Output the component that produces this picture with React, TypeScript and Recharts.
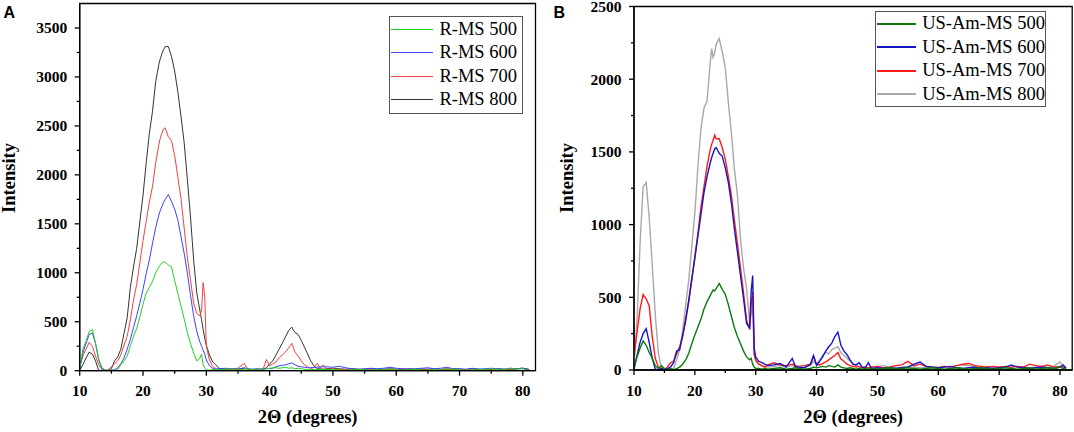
import { LineChart, Line, XAxis, YAxis, ReferenceArea, Legend, Label } from 'recharts';

const twoTheta = [
  10, 10.5, 11, 11.5, 12, 12.5, 13, 13.5, 14, 14.5, 15, 15.5, 16, 16.5, 17, 17.5, 18, 18.5, 19, 19.5, 20, 20.5, 21, 21.5, 22, 22.5,
  22.75, 23, 23.25, 23.5,
  24, 24.5, 25, 25.5, 26, 26.5, 27, 27.5, 28, 28.5, 29,
  29.25, 29.5, 29.75, 30,
  30.5, 31, 31.5, 32,
  33, 34, 35, 36, 36.5, 37, 38, 39, 39.5,
  40, 40.5, 41, 41.5, 42, 42.5, 43, 43.5, 44, 44.5, 45, 45.5, 46, 46.5, 47, 47.5, 48, 48.5,
  49,
  50, 51, 52, 53, 54, 55, 56, 57, 58, 59,
  60, 61, 62, 63, 64, 65, 66, 67, 68, 69,
  70, 71, 72, 73, 74, 75, 76, 77, 78, 79, 80,
  80.5, 81,
];

// Panel A - R-MS
const rms500 = [
  20, 220, 300, 400, 420, 280, 120, 30, 10, 0, 10, 0, 10, 60, 100, 150, 250, 350, 430, 550, 680, 790, 850, 910, 1000, 1060,
  1080, 1100, 1110, 1110,
  1080, 1060, 920, 790, 660, 530, 390, 280, 180, 100, 130,
  170, 60, 30, 10,
  5, 10, 15, 10,
  15, 20, 10, 15, 25, 10, 15, 10, 20,
  25, 30, 30, 25, 30, 35, 25, 30, 20, 25, 20, 15, 10, 15, 10, 15, 10, 15,
  10,
  15, 10, 5, 10, 15, 10, 5, 15, 10, 20,
  10, 5, 10, 15, 10, 5, 15, 10, 20, 15,
  10, 5, 10, 15, 10, 20, 15, 10, 25, 15, 20,
  10, 5,
];
const rms600 = [
  20, 180, 280, 370, 385, 280, 110, 20, 5, 0, 5, 10, 30, 70, 130, 220, 320, 440, 560, 690, 830, 990, 1130, 1300, 1460, 1590,
  1640, 1680, 1720, 1750,
  1800, 1730, 1650, 1540, 1370, 1200, 1000, 770, 560, 400, 290,
  250, 210, 170, 110,
  50, 25, 15, 20,
  25, 20, 15, 30, 20, 15, 20, 15, 25,
  20, 25, 40, 50, 55, 60, 70, 80, 60, 45, 40, 35, 30, 30, 35, 35, 40, 40,
  40,
  35, 45, 30, 20, 15, 20, 25, 20, 25, 35,
  25, 20, 15, 20, 25, 30, 20, 25, 35, 20,
  20, 15, 25, 15, 20, 25, 20, 15, 25, 20, 25,
  20, 15,
];
const rms700 = [
  40, 150, 220, 290, 250, 150, 60, 10, 0, 10, 40, 70, 100, 160, 260, 350, 520, 720, 880, 1100, 1330, 1520, 1720, 1880, 2120, 2310,
  2380, 2430, 2470, 2480,
  2390, 2350, 2200, 1980, 1760, 1460, 1160, 930, 690, 585, 560,
  620, 900, 760, 250,
  110, 45, 20, 15,
  20, 15, 25, 75, 20, 15, 10, 20, 115,
  50, 70, 90, 130, 160, 190, 230, 280, 190, 150, 100, 60, 40, 25, 30, 75, 25, 60,
  15,
  20, 15, 10, 20, 15, 10, 15, 20, 10, 15,
  10, 20, 15, 10, 20, 15, 10, 15, 20, 10,
  15, 10, 20, 15, 10, 15, 20, 10, 15, 20, 25,
  15, 10,
];
const rms800 = [
  0, 60, 130, 190, 170, 100, 0, 0, 0, 0, 20, 100, 140, 220, 380, 540, 850, 1060, 1250, 1520, 1790, 2120, 2420, 2650, 2950, 3130,
  3190, 3240, 3280, 3310,
  3310, 3210, 3060, 2850, 2600, 2330, 1960, 1570, 1130, 790, 610,
  520, 420, 330, 260,
  160, 90, 60, 25,
  15, 20, 15, 25, 15, 10, 10, 15, 30,
  70, 100, 160, 220, 280, 345, 410, 445, 390, 370, 310, 240, 170, 100, 50, 20, 20, 15,
  20,
  25, 20, 15, 20, 10, 15, 20, 10, 15, 20,
  15, 10, 20, 15, 10, 15, 20, 10, 15, 20,
  15, 10, 20, 15, 10, 15, 20, 15, 10, 20, 25,
  20, 10,
];

// Panel B - US-Am-MS
const usam500 = [
  10, 90, 150, 200, 170, 120, 80, 30, 10, 30, 10, 0, 10, 0, 10, 20, 40, 70, 115, 180, 240, 295, 350, 420, 470, 510,
  530, 550, 545, 560,
  595, 555, 520, 450, 370, 290, 230, 180, 130, 90, 70,
  80, 40, 20, 10,
  10, 5, 10, 5,
  10, 15, 5, 10, 15, 10, 5, 10, 20,
  15, 20, 25, 20, 30, 25, 20, 35, 20, 15, 10, 15, 10, 5, 10, 5, 10, 5,
  10,
  5, 10, 15, 5, 10, 15, 10, 5, 10, 15,
  10, 5, 10, 15, 10, 5, 10, 15, 10, 5,
  10, 15, 10, 5, 10, 15, 5, 10, 15, 10, 20,
  10, 5,
];
const usam600 = [
  10, 100, 190, 250, 285, 190, 80, 5, 0, 10, 0, 10, 20, 50, 130, 140, 240, 340, 480, 630, 770, 920, 1070, 1220, 1330, 1420,
  1460, 1490, 1520, 1530,
  1490, 1470, 1390, 1290, 1150, 970, 810, 650, 490, 320, 290,
  540, 650, 150, 90,
  60, 50, 40, 30,
  35, 45, 20, 80, 25, 20, 15, 40, 100,
  30, 60, 90, 130, 160, 185, 230, 260, 170, 130, 105, 70, 40, 35, 50, 20, 15, 50,
  10,
  15, 10, 15, 10, 15, 20, 40, 55, 25, 20,
  15, 20, 25, 15, 10, 15, 20, 10, 15, 10,
  15, 20, 35, 20, 15, 10, 15, 20, 15, 10, 20,
  35, 10,
];
const usam700 = [
  100, 260, 420, 520, 490, 440, 230, 80, 20, 10, 0, 20, 50, 60, 110, 160, 230, 360, 470, 620, 780, 940, 1120, 1260, 1400, 1510,
  1550, 1580, 1615, 1590,
  1590, 1530, 1450, 1330, 1200, 1030, 870, 700, 530, 340, 280,
  450, 540, 110, 70,
  40, 30, 20, 35,
  50, 35, 30, 40, 30, 25, 30, 40, 95,
  40, 35, 45, 55, 70, 85, 100, 120, 75, 60, 40, 30, 25, 20, 25, 15, 20, 15,
  20,
  25, 15, 20, 30, 35, 60, 30, 40, 25, 20,
  15, 25, 20, 30, 40, 45, 30, 25, 20, 25,
  20, 25, 20, 25, 20, 40, 30, 25, 35, 20, 25,
  20, 15,
];
const usam800 = [
  20, 350, 870, 1260, 1290, 1050, 720, 380, 120, 10, 0, 5, 5, 10, 70, 140, 270, 450, 620, 850, 1080, 1400, 1660, 1800, 1850, 2100,
  2210, 2150, 2180, 2240,
  2280, 2190, 2080, 1840, 1630, 1380, 1200, 900, 700, 560, 330,
  380, 450, 100, 60,
  40, 30, 25, 20,
  25, 30, 20, 30, 20, 15, 20, 30, 60,
  40, 70, 100, 125, 110, 140, 150, 160, 120, 100, 80, 60, 40, 30, 20, 15, 20, 15,
  20,
  25, 30, 20, 15, 20, 25, 20, 15, 20, 15,
  20, 25, 20, 30, 35, 30, 25, 20, 25, 20,
  20, 15, 20, 25, 20, 15, 20, 25, 20, 25, 55,
  30, 20,
];

const namesA = ['R-MS 500', 'R-MS 600', 'R-MS 700', 'R-MS 800'];
const namesB = ['US-Am-MS 500', 'US-Am-MS 600', 'US-Am-MS 700', 'US-Am-MS 800'];

const xTicks = [10, 15, 20, 25, 30, 35, 40, 45, 50, 55, 60, 65, 70, 75, 80];
const yTicksA = [0, 250, 500, 750, 1000, 1250, 1500, 1750, 2000, 2250, 2500, 2750, 3000, 3250, 3500];
const yTicksB = [0, 250, 500, 750, 1000, 1250, 1500, 1750, 2000, 2250, 2500];

const rowsA = twoTheta.map((x, i) => ({ x, s500: rms500[i], s600: rms600[i], s700: rms700[i], s800: rms800[i] }));
const rowsB = twoTheta.map((x, i) => ({ x, s500: usam500[i], s600: usam600[i], s700: usam700[i], s800: usam800[i] }));

const keys = ['s500', 's600', 's700', 's800'];
const colorsA = ['#22d022', '#4040ff', '#f04040', '#333333'];
const colorsB = ['#0b7a0b', '#1414c8', '#ff1a1a', '#a8a8a8'];

const SERIF = '"Liberation Serif", "Times New Roman", serif';

function XTick({ x, y, payload }: any) {
  const major = payload.value % 10 === 0;
  return (
    <g>
      <line x1={x} y1={y} x2={x} y2={y + (major ? 5 : 3)} stroke="#000" strokeWidth={1.3} />
      {major && (
        <text x={x} y={y + 25.5} textAnchor="middle" fontSize={15.5} fontWeight="bold" fontFamily={SERIF} fill="#000">
          {payload.value}
        </text>
      )}
    </g>
  );
}

function YTick({ x, y, payload }: any) {
  const major = payload.value % 500 === 0;
  return (
    <g>
      <line x1={x} y1={y} x2={x - (major ? 5 : 3)} y2={y} stroke="#000" strokeWidth={1.3} />
      {major && (
        <text x={x - 12.5} y={y + 5.3} textAnchor="end" fontSize={15.5} fontWeight="bold" fontFamily={SERIF} fill="#000">
          {payload.value}
        </text>
      )}
    </g>
  );
}

function LegendBox({ names, colors, width, height, lineLen, gap, rowH, padTop, strokeW }: any) {
  return (
    <div
      style={{
        width,
        height,
        boxSizing: 'border-box',
        border: '1.3px solid #555',
        background: '#fff',
        paddingTop: padTop,
        fontFamily: SERIF,
        fontSize: 18.5,
        color: '#000',
      }}
    >
      {names.map((n: string, i: number) => (
        <div key={n} style={{ display: 'flex', alignItems: 'center', height: rowH, whiteSpace: 'nowrap' }}>
          <span style={{ display: 'block', width: lineLen, height: 0, borderTop: `${strokeW}px solid ${colors[i]}`, marginLeft: 1 }} />
          <span style={{ marginLeft: gap }}>{n}</span>
        </div>
      ))}
    </div>
  );
}

function Panel({ rows, names, colors, yMax, yTicks, margin, yAxisWidth, strokeW, yTitleX, legend }: any) {
  return (
    <LineChart width={537} height={432} data={rows} margin={margin}>
      <XAxis
        type="number"
        dataKey="x"
        domain={[10, 82]}
        ticks={xTicks}
        interval={0}
        allowDataOverflow
        height={30}
        tickSize={0}
        tickMargin={0}
        tick={<XTick />}
        axisLine={{ stroke: '#000', strokeWidth: 1.3 }}
        label={
          <Label
            content={({ viewBox }: any) => (
              <text
                x={viewBox.x + viewBox.width / 2}
                y={423}
                textAnchor="middle"
                fontSize={18.5}
                fontWeight="bold"
                fontFamily={SERIF}
                fill="#000"
              >
                2Θ (degrees)
              </text>
            )}
          />
        }
      />
      <YAxis
        type="number"
        domain={[0, yMax]}
        ticks={yTicks}
        interval={0}
        allowDataOverflow
        width={yAxisWidth}
        tickSize={0}
        tickMargin={0}
        tick={<YTick />}
        axisLine={{ stroke: '#000', strokeWidth: 1.3 }}
        label={
          <Label
            content={() => (
              <text
                x={yTitleX}
                y={178}
                transform={`rotate(-90 ${yTitleX} 178)`}
                textAnchor="middle"
                fontSize={18.5}
                fontWeight="bold"
                fontFamily={SERIF}
                fill="#000"
              >
                Intensity
              </text>
            )}
          />
        }
      />
      <ReferenceArea x1={10} x2={82} y1={0} y2={yMax} fill="none" stroke="#000" strokeWidth={1.3} />
      {[3, 2, 1, 0].map((i) => (
        <Line
          key={keys[i]}
          type="linear"
          dataKey={keys[i]}
          name={names[i]}
          stroke={colors[i]}
          strokeWidth={strokeW}
          dot={false}
          activeDot={false}
          isAnimationActive={false}
        />
      ))}
      <Legend
        layout="horizontal"
        verticalAlign="middle"
        align="center"
        wrapperStyle={{ left: legend.left, top: legend.top, width: legend.width, height: legend.height, margin: 0 }}
        content={() => <LegendBox names={names} colors={colors} strokeW={legend.lineW} {...legend} />}
      />
    </LineChart>
  );
}

export default function App() {
  return (
    <div style={{ position: 'absolute', left: 0, top: 0, width: 1074, height: 432, background: '#fff' }}>
      <div style={{ position: 'absolute', left: 0, top: 0 }}>
        <Panel
          rows={rowsA}
          names={namesA}
          colors={colorsA}
          yMax={3750}
          yTicks={yTicksA}
          margin={{ top: 3.5, right: 1.5, left: 0, bottom: 31.3 }}
          yAxisWidth={79.7}
          strokeW={1}
          yTitleX={15}
          legend={{ left: 389.3, top: 16, width: 133.5, height: 97.5, lineLen: 41.6, gap: 6.5, rowH: 23.3, padTop: 1, lineW: 1 }}
        />
      </div>
      <div style={{ position: 'absolute', left: 537, top: 0 }}>
        <Panel
          rows={rowsB}
          names={namesB}
          colors={colorsB}
          yMax={2500}
          yTicks={yTicksB}
          margin={{ top: 6.5, right: 1.8, left: 0, bottom: 32 }}
          yAxisWidth={97}
          strokeW={1.4}
          yTitleX={35.5}
          legend={{ left: 338, top: 11, width: 171, height: 96, lineLen: 40.5, gap: 5.8, rowH: 23.5, padTop: 0, lineW: 2 }}
        />
      </div>
      <div
        style={{
          position: 'absolute',
          left: 3.5,
          top: 4.8,
          fontFamily: '"Liberation Sans", Arial, sans-serif',
          fontWeight: 'bold',
          fontSize: 16,
          lineHeight: '16px',
        }}
      >
        A
      </div>
      <div
        style={{
          position: 'absolute',
          left: 553.5,
          top: 4.8,
          fontFamily: '"Liberation Sans", Arial, sans-serif',
          fontWeight: 'bold',
          fontSize: 16,
          lineHeight: '16px',
        }}
      >
        B
      </div>
    </div>
  );
}
